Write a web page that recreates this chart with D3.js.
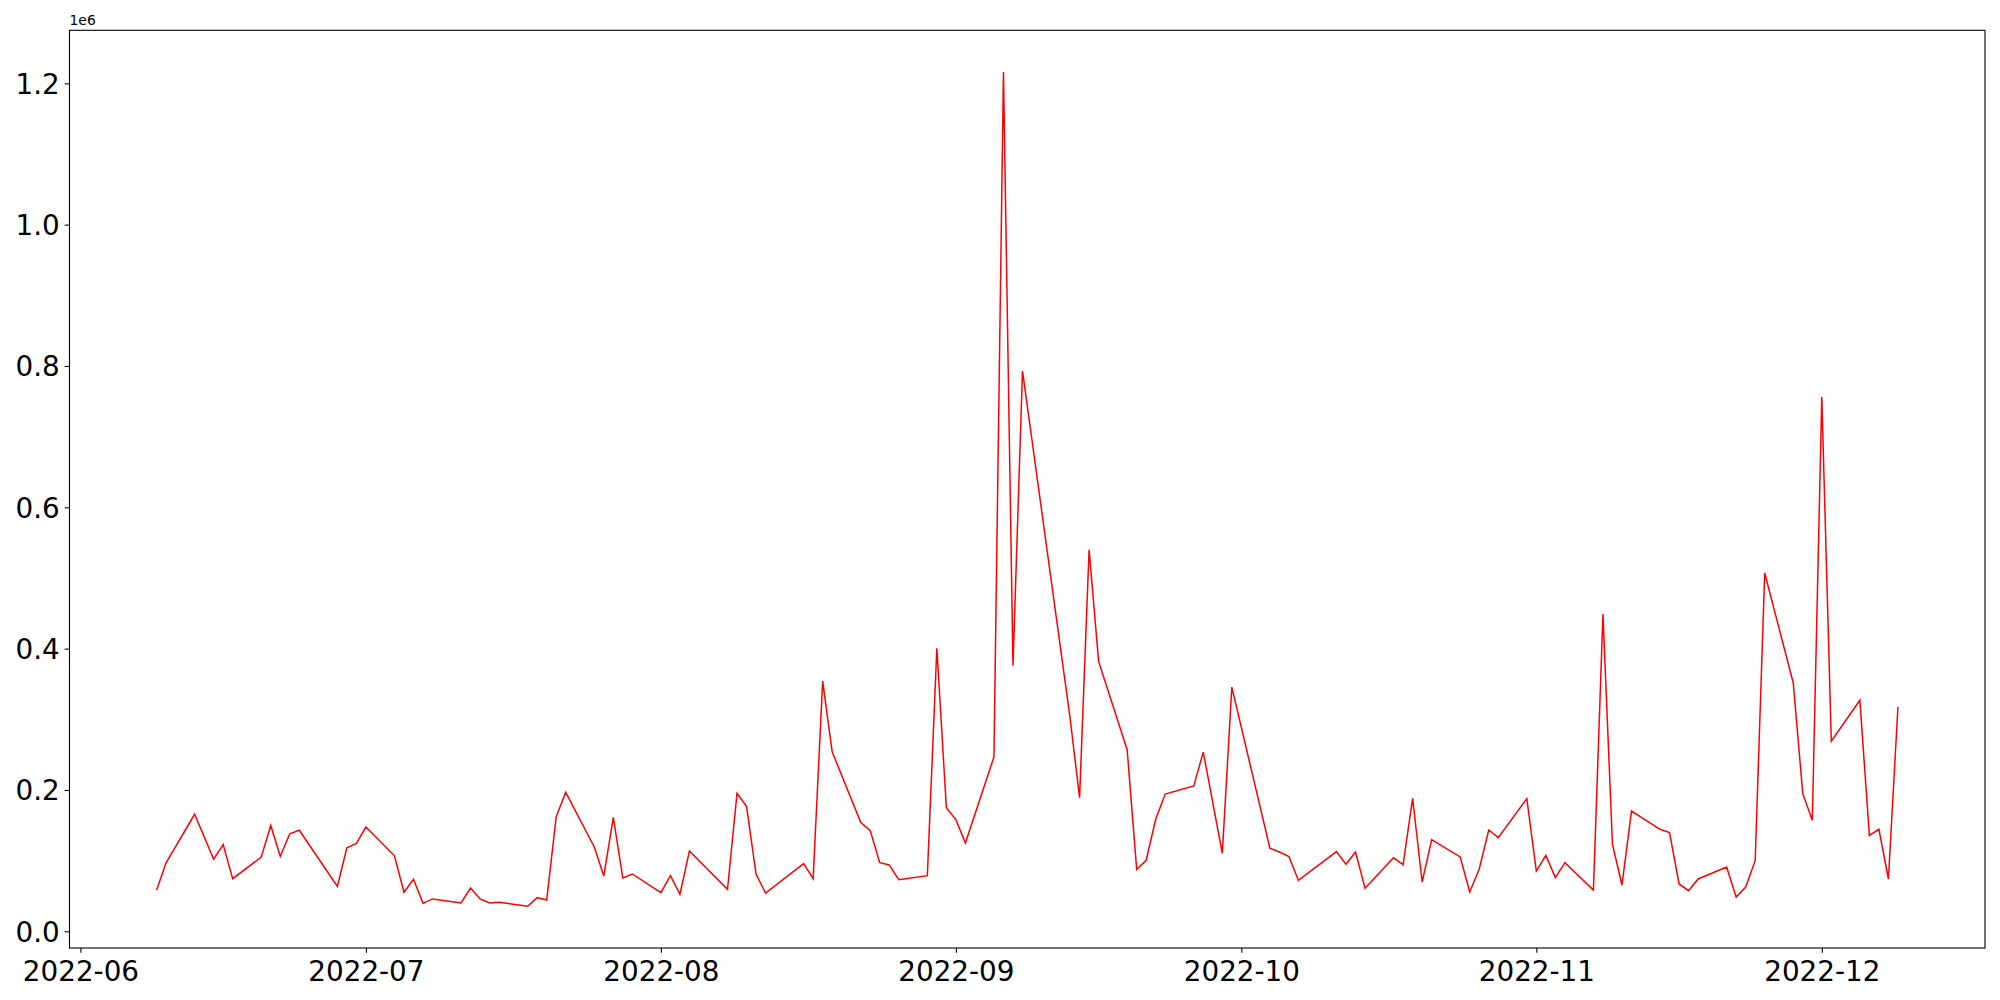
<!doctype html>
<html lang="en">
<head>
	<meta http-equiv="Content-type" content="text/html" charset="UTF-8">
	<title>Volume</title>

	<!-- D3 -->
	<script src="https://d3js.org/d3.v7.min.js"></script>

	<style>
		body {
			margin: 0;
			padding: 0;
			background: #fff;
			font-family: 'DejaVu Sans', sans-serif;
		}
		.axis text {
			font-family: 'DejaVu Sans', sans-serif;
			font-size: 27.8px;
			fill: #000;
		}
		.axis line {
			stroke: #000;
			stroke-width: 1.1px;
		}
	</style>
</head>
<body>
	<div id="canvas"></div>

	<script>
		//////////////////////////////////////
		//////////////// Data ////////////////
		//////////////////////////////////////

		const dates = [
			'2022-06-09','2022-06-10','2022-06-13','2022-06-15','2022-06-16','2022-06-17',
			'2022-06-20','2022-06-21','2022-06-22','2022-06-23','2022-06-24',
			'2022-06-28','2022-06-29','2022-06-30','2022-07-01',
			'2022-07-04','2022-07-05','2022-07-06','2022-07-07','2022-07-08',
			'2022-07-11','2022-07-12','2022-07-13','2022-07-14','2022-07-15',
			'2022-07-18','2022-07-19','2022-07-20','2022-07-21','2022-07-22',
			'2022-07-25','2022-07-26','2022-07-27','2022-07-28','2022-07-29',
			'2022-08-01','2022-08-02','2022-08-03','2022-08-04',
			'2022-08-08','2022-08-09','2022-08-10','2022-08-11','2022-08-12',
			'2022-08-16','2022-08-17','2022-08-18','2022-08-19',
			'2022-08-22','2022-08-23','2022-08-24','2022-08-25','2022-08-26',
			'2022-08-29','2022-08-30','2022-08-31','2022-09-01','2022-09-02',
			'2022-09-05','2022-09-06','2022-09-07','2022-09-08',
			'2022-09-13','2022-09-14','2022-09-15','2022-09-16',
			'2022-09-19','2022-09-20','2022-09-21','2022-09-22','2022-09-23',
			'2022-09-26','2022-09-27','2022-09-29','2022-09-30',
			'2022-10-04','2022-10-05','2022-10-06','2022-10-07',
			'2022-10-11','2022-10-12','2022-10-13','2022-10-14',
			'2022-10-17','2022-10-18','2022-10-19','2022-10-20','2022-10-21',
			'2022-10-24','2022-10-25','2022-10-26','2022-10-27','2022-10-28',
			'2022-10-31','2022-11-01','2022-11-02','2022-11-03','2022-11-04',
			'2022-11-07','2022-11-08','2022-11-09','2022-11-10','2022-11-11',
			'2022-11-14','2022-11-15','2022-11-16','2022-11-17','2022-11-18',
			'2022-11-21','2022-11-22','2022-11-23','2022-11-24','2022-11-25',
			'2022-11-28','2022-11-29','2022-11-30','2022-12-01','2022-12-02',
			'2022-12-05','2022-12-06','2022-12-07','2022-12-08','2022-12-09'
		];

		const volumes = [
			58000, 97000, 165600, 102000, 122600, 74500,
			105000, 149800, 106100, 138000, 143000,
			63400, 118200, 124300, 147600,
			106800, 55200, 73600, 39600, 45800,
			40100, 61300, 45800, 40100, 41000,
			35400, 47600, 44300, 162300, 196700,
			119300, 78300, 161300, 75400, 81100,
			54700, 78800, 52400, 113700,
			59400, 195300, 176900, 81100, 54200,
			95800, 74500, 354000, 254000,
			154200, 142500, 97200, 93900, 73100,
			78800, 400500, 175000, 158000, 125000,
			246700, 1216000, 376000, 793000,
			302000, 189000, 540000, 382000,
			257000, 87700, 100500, 158500, 194300,
			205700, 253600, 110400, 345600,
			117500, 112200, 105900, 72000,
			112700, 95000, 112200, 61000,
			104000, 94300, 188200, 69800, 129700,
			105200, 55700, 88200, 143400, 132500,
			187800, 85300, 107500, 76000, 97200,
			58500, 449000, 123100, 65500, 170200,
			144300, 139600, 67000, 57500, 74100,
			91000, 48600, 62700, 100000, 507000,
			351400, 194800, 157000, 756000, 269000,
			327000, 135800, 144300, 74000, 317500
		];

		const yTicks = [0, 200000, 400000, 600000, 800000, 1000000, 1200000];

		//////////////////////////////////////
		/////////////// Layout ///////////////
		//////////////////////////////////////

		const width = 2000;
		const height = 1000;
		const plot = { left: 69.5, right: 1985, top: 30.3, bottom: 948 };
		const tickLen = 4.86;

		const parse = d3.utcParse('%Y-%m-%d');
		const data = dates.map((d, i) => ({ date: parse(d), value: volumes[i] }));

		// matplotlib style 5% margins on both axes
		const [t0, t1] = d3.extent(data, (d) => d.date);
		const tPad = (t1 - t0) * 0.05;
		const [v0, v1] = d3.extent(data, (d) => d.value);
		const vPad = (v1 - v0) * 0.05;

		const x = d3.scaleUtc()
			.domain([new Date(+t0 - tPad), new Date(+t1 + tPad)])
			.range([plot.left, plot.right]);

		const y = d3.scaleLinear()
			.domain([v0 - vPad, v1 + vPad])
			.range([plot.bottom, plot.top]);

		const svg = d3.select('#canvas')
			.append('svg')
			.attr('width', width)
			.attr('height', height);

		//////////////////////////////////////
		//////////////// Axes ////////////////
		//////////////////////////////////////

		const xAxis = svg.append('g')
			.attr('class', 'axis')
			.attr('transform', 'translate(0,' + plot.bottom + ')')
			.call(d3.axisBottom(x)
				.ticks(d3.utcMonth.every(1))
				.tickFormat(d3.utcFormat('%Y-%m'))
				.tickSize(tickLen)
				.tickSizeOuter(0)
				.tickPadding(tickLen));
		xAxis.select('.domain').remove();
		xAxis.selectAll('text').attr('dy', '0.83em');

		const yAxis = svg.append('g')
			.attr('class', 'axis')
			.attr('transform', 'translate(' + plot.left + ',0)')
			.call(d3.axisLeft(y)
				.tickValues(yTicks)
				.tickFormat((d) => (d / 1e6).toFixed(1))
				.tickSize(tickLen)
				.tickSizeOuter(0)
				.tickPadding(tickLen));
		yAxis.select('.domain').remove();
		yAxis.selectAll('text').attr('dy', '0.36em');

		// offset label
		svg.append('text')
			.attr('x', plot.left)
			.attr('y', plot.top - 5)
			.attr('font-size', 13.9)
			.attr('fill', '#000')
			.text('1e6');

		//////////////////////////////////////
		//////////////// Line ////////////////
		//////////////////////////////////////

		const line = d3.line()
			.x((d) => x(d.date))
			.y((d) => y(d.value));

		svg.append('path')
			.datum(data)
			.attr('fill', 'none')
			.attr('stroke', '#ff0000')
			.attr('stroke-width', 1.5)
			.attr('stroke-linejoin', 'miter')
			.attr('d', line);

		// frame
		svg.append('rect')
			.attr('x', plot.left)
			.attr('y', plot.top)
			.attr('width', plot.right - plot.left)
			.attr('height', plot.bottom - plot.top)
			.attr('fill', 'none')
			.attr('stroke', '#000')
			.attr('stroke-width', 1.1);
	</script>
</body>
</html>
